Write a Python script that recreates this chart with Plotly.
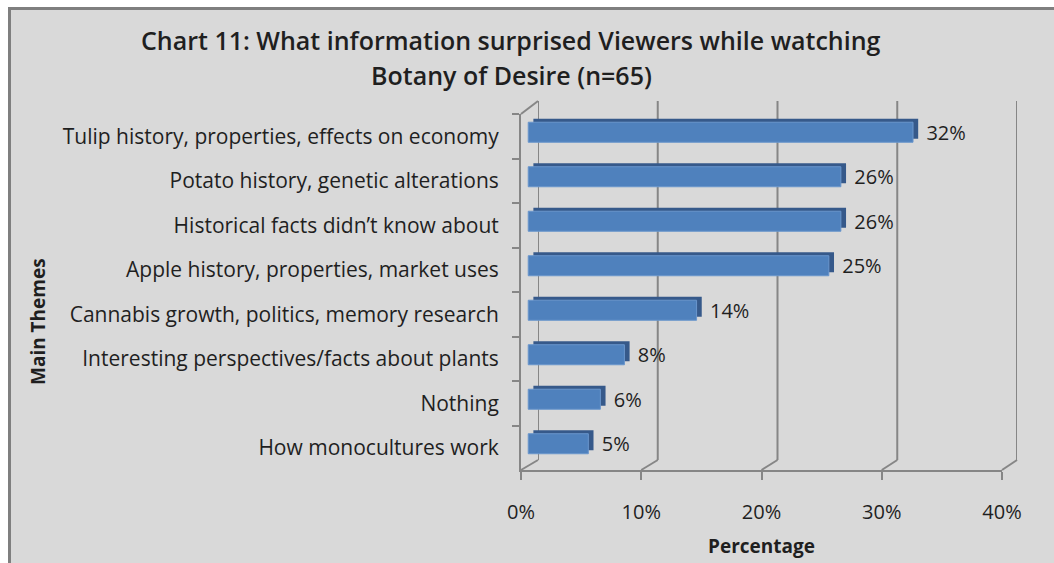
import plotly.graph_objects as go

# ---- data ----
categories = [
    "Tulip history, properties, effects on economy",
    "Potato history, genetic alterations",
    "Historical facts didn\u2019t know about",
    "Apple history, properties, market uses",
    "Cannabis growth, politics, memory research",
    "Interesting perspectives/facts about plants",
    "Nothing",
    "How monocultures work",
]
values_pct = [32, 26, 26, 25, 14, 8, 6, 5]
x_ticks = [0, 0.1, 0.2, 0.3, 0.4]
title_line1 = "Chart 11: What information surprised Viewers while watching"
title_line2 = "Botany of Desire (n=65)"

# ---- layout helpers (pixels -> paper) ----
W, H = 1054, 563
FONT = "'Open Sans', Lato, sans-serif"
GRID = "#868686"
TXT = "#1f1f1f"

def px(p):
    return p / W

def py(p):
    return 1 - p / H

floor_dom = [px(521), px(1002)]
back_dom = [px(538), px(1017)]
cat_dom = [py(470), py(114)]
XMAX = 0.4

def on_dom(v, dom):
    return dom[0] + v / XMAX * (dom[1] - dom[0])

vals = [v / 100 for v in values_pct]
n = len(categories)
bar_w = 0.45
shift = 0.09          # front face raised (category units)
depth_y = 0.08        # 3D depth raise
base_front = 0.006
base_back = 0.0103

fig = go.Figure()

# back (shadow) face of 3D bars
fig.add_trace(go.Bar(
    y=categories, x=vals, base=base_back, orientation="h",
    width=bar_w, offset=-bar_w / 2 - shift - depth_y,
    marker=dict(color="#36598a", line=dict(width=0)),
    hoverinfo="skip", showlegend=False,
))
# front face, carries the labels
fig.add_trace(go.Bar(
    y=categories, x=vals, base=base_front, orientation="h",
    width=bar_w, offset=-bar_w / 2 - shift,
    marker=dict(color="#4f81bd", line=dict(color="#6a96cc", width=1)),
    text=["\u00a0\u00a0" + f"{v}%" for v in values_pct],
    textposition="outside", constraintext="none", cliponaxis=False,
    textfont=dict(family=FONT, size=20, color=TXT),
    hoverinfo="skip", showlegend=False,
))
# dummy trace so the back-wall axis exists
fig.add_trace(go.Scatter(x=[None], y=[None], xaxis="x2", yaxis="y",
                         hoverinfo="skip", showlegend=False))

shapes = []
# background border
shapes.append(dict(type="rect", xref="paper", yref="paper", x0=-0.01, x1=px(8),
                   y0=-0.01, y1=1.01, fillcolor="white", line=dict(width=0), layer="below"))
shapes.append(dict(type="rect", xref="paper", yref="paper", x0=-0.01, x1=1.01,
                   y0=py(7), y1=1.01, fillcolor="white", line=dict(width=0), layer="below"))
shapes.append(dict(type="line", xref="paper", yref="paper", x0=px(9.5), x1=px(9.5),
                   y0=-0.01, y1=py(7.5), line=dict(color="#7f7f7f", width=3)))
shapes.append(dict(type="line", xref="paper", yref="paper", x0=px(8), x1=1.01,
                   y0=py(8.5), y1=py(8.5), line=dict(color="#7f7f7f", width=3)))

# back wall grid lines and floor diagonals
for v in x_ticks:
    shapes.append(dict(type="line", xref="x2", yref="paper", x0=v, x1=v,
                       y0=py(460), y1=py(101), line=dict(color=GRID, width=2), layer="below"))
    shapes.append(dict(type="line", xref="paper", yref="paper",
                       x0=on_dom(v, floor_dom), y0=py(470),
                       x1=on_dom(v, back_dom), y1=py(460),
                       line=dict(color=GRID, width=2), layer="below"))
# top-left wall diagonal
shapes.append(dict(type="line", xref="paper", yref="paper",
                   x0=floor_dom[0], y0=cat_dom[1], x1=back_dom[0], y1=py(101),
                   line=dict(color=GRID, width=2), layer="below"))

annotations = [
    dict(text=title_line1, x=px(511), y=py(40), xref="paper", yref="paper",
         xanchor="center", yanchor="middle", showarrow=False,
         font=dict(family=FONT, size=25, color=TXT, weight=600)),
    dict(text=title_line2, x=px(511), y=py(75), xref="paper", yref="paper",
         xanchor="center", yanchor="middle", showarrow=False,
         font=dict(family=FONT, size=25, color=TXT, weight=600)),
    dict(text="Main Themes", x=px(38), y=py(322), xref="paper", yref="paper",
         xanchor="center", yanchor="middle", textangle=-90, showarrow=False,
         font=dict(family=FONT, size=19, color=TXT, weight="bold")),
    dict(text="Percentage", x=px(762), y=py(546), xref="paper", yref="paper",
         xanchor="center", yanchor="middle", showarrow=False,
         font=dict(family=FONT, size=19, color=TXT, weight="bold")),
]

fig.update_layout(
    width=W, height=H,
    margin=dict(l=0, r=0, t=0, b=0),
    paper_bgcolor="#d9d9d9", plot_bgcolor="rgba(0,0,0,0)",
    barmode="overlay",
    font=dict(family=FONT, size=20, color=TXT),
    shapes=shapes, annotations=annotations,
    xaxis=dict(domain=floor_dom, range=[0, XMAX], anchor="y",
               tickvals=x_ticks, tickformat=".0%",
               showgrid=False, zeroline=False,
               showline=True, linecolor=GRID, linewidth=2,
               ticks="outside", ticklen=8, tickwidth=2, tickcolor=GRID,
               ticklabelstandoff=15, automargin=False,
               tickfont=dict(family=FONT, size=20, color=TXT)),
    xaxis2=dict(domain=back_dom, range=[0, XMAX], anchor="y",
                visible=False, showgrid=False, zeroline=False),
    yaxis=dict(domain=cat_dom, type="category", categoryarray=categories,
               range=[n - 0.5, -0.5], anchor="x",
               showgrid=False, zeroline=False,
               showline=True, linecolor=GRID, linewidth=2,
               ticks="outside", tickson="boundaries", ticklen=7, tickwidth=2,
               tickcolor=GRID, ticklabelstandoff=16, automargin=False,
               tickfont=dict(family=FONT, size=21, color=TXT)),
)

fig.write_html("out.html")
